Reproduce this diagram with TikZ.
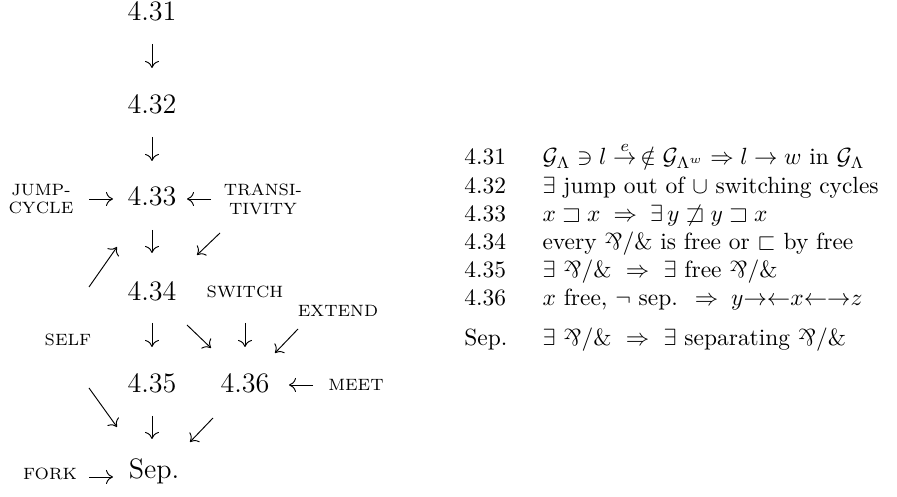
\documentclass[tikz,border=0pt]{standalone}
\usepackage{amsmath, amssymb}
\usepackage{graphicx}
\usepackage{tikz}
\usetikzlibrary{arrows.meta}
\newcommand{\parrand}{\rotatebox[origin=c]{180}{\&}/\&}
\tikzset{
  lemma/.style={font=\large, inner sep=2pt},
  rulename/.style={font=\scriptsize, align=center, inner sep=1pt},
  arr/.style={-{Computer Modern Rightarrow[length=3pt, width=6pt]}, line width=0.4pt}
}

\begin{document}
\begin{tikzpicture}[x=0.15mm, y=-0.15mm]
    \useasboundingbox (0,0) rectangle (897,497);

    % Lemmas
    \node[lemma] (n431) at (152,11) {4.31};
    \node[lemma] (n432) at (152,104) {4.32};
    \node[lemma] (n433) at (152,196) {4.33};
    \node[lemma] (n434) at (152,291) {4.34};
    \node[lemma] (n435) at (152,383) {4.35};
    \node[lemma] (n436) at (245,383) {4.36};
    \node[lemma, anchor=base] (sep) at (154,479) {Sep.};

    % Rules
    \node[rulename] (jump) at (41,199) {JUMP-\\CYCLE};
    \node[rulename] (trans) at (263,199) {TRANSI-\\TIVITY};
    \node[rulename] (switch) at (245,292) {SWITCH};
    \node[rulename] (extend) at (338,311) {EXTEND};
    \node[rulename] (self) at (68,340) {SELF};
    \node[rulename] (meet) at (356,385) {MEET};
    \node[rulename] (fork) at (50,474) {FORK};

    % Implications
    \draw[arr] ([shift={(0,33)}]n431.center) -- ([shift={(0,-36)}]n432.center);
    \draw[arr] ([shift={(0,33)}]n432.center) -- ([shift={(0,-35)}]n433.center);
    \draw[arr] ([shift={(48,0)}]jump.center) -- ([shift={(-39,3)}]n433.center);
    \draw[arr] ([shift={(-52,0)}]trans.center) -- ([shift={(35,3)}]n433.center);
    \draw[arr] ([shift={(0,34)}]n433.center) -- ([shift={(0,-38)}]n434.center);
    \draw[arr] ([shift={(-43,34)}]trans.center) -- ([shift={(45,-36)}]n434.center);
    \draw[arr] ([shift={(21,-53)}]self.center) -- ([shift={(-35,51)}]n433.center);
    \draw[arr] ([shift={(0,32)}]n434.center) -- ([shift={(0,-36)}]n435.center);
    \draw[arr] ([shift={(35,34)}]n434.center) -- ([shift={(-34,-35)}]n436.center);
    \draw[arr] ([shift={(0,31)}]switch.center) -- ([shift={(0,-36)}]n436.center);
    \draw[arr] ([shift={(-40,18)}]extend.center) -- ([shift={(30,-30)}]n436.center);
    \draw[arr] ([shift={(-43,0)}]meet.center) -- ([shift={(44,2)}]n436.center);
    \draw[arr] ([shift={(21,48)}]self.center) -- ([shift={(-37,-52)}]sep.base);
    \draw[arr] ([shift={(0,33)}]n435.center) -- ([shift={(-2,-40)}]sep.base);
    \draw[arr] ([shift={(-32,35)}]n436.center) -- ([shift={(36,-37)}]sep.base);
    \draw[arr] ([shift={(39,3)}]fork.center) -- ([shift={(-41,-2)}]sep.base);

    % Statements
    \node[anchor=base west, inner sep=0pt] (table) at (464,165) {%
        \begin{tabular}[t]{@{}l@{\hspace{15pt}}l@{}}
        4.31 & $\mathcal{G}_\Lambda \ni l \stackrel{e}{\to}\,\notin \mathcal{G}_{\Lambda^w} \Rightarrow l \to w$ in $\mathcal{G}_\Lambda$ \\
        4.32 & $\exists$ jump out of $\cup$ switching cycles \\
        4.33 & $x \sqsupset x \;\Rightarrow\; \exists\, y \not\sqsupset y \sqsupset x$ \\
        4.34 & every \parrand{} is free or $\sqsubset$ by free \\
        4.35 & $\exists$ \parrand{} $\;\Rightarrow\;$ $\exists$ free \parrand \\
        4.36 & $x$ free, $\neg$ sep. $\;\Rightarrow\; y{\rightarrow}{\leftarrow}x{\leftarrow}{\rightarrow}z$ \\[5pt]
        Sep. & $\exists$ \parrand{} $\;\Rightarrow\;$ $\exists$ separating \parrand
        \end{tabular}};
\end{tikzpicture}
\end{document}
